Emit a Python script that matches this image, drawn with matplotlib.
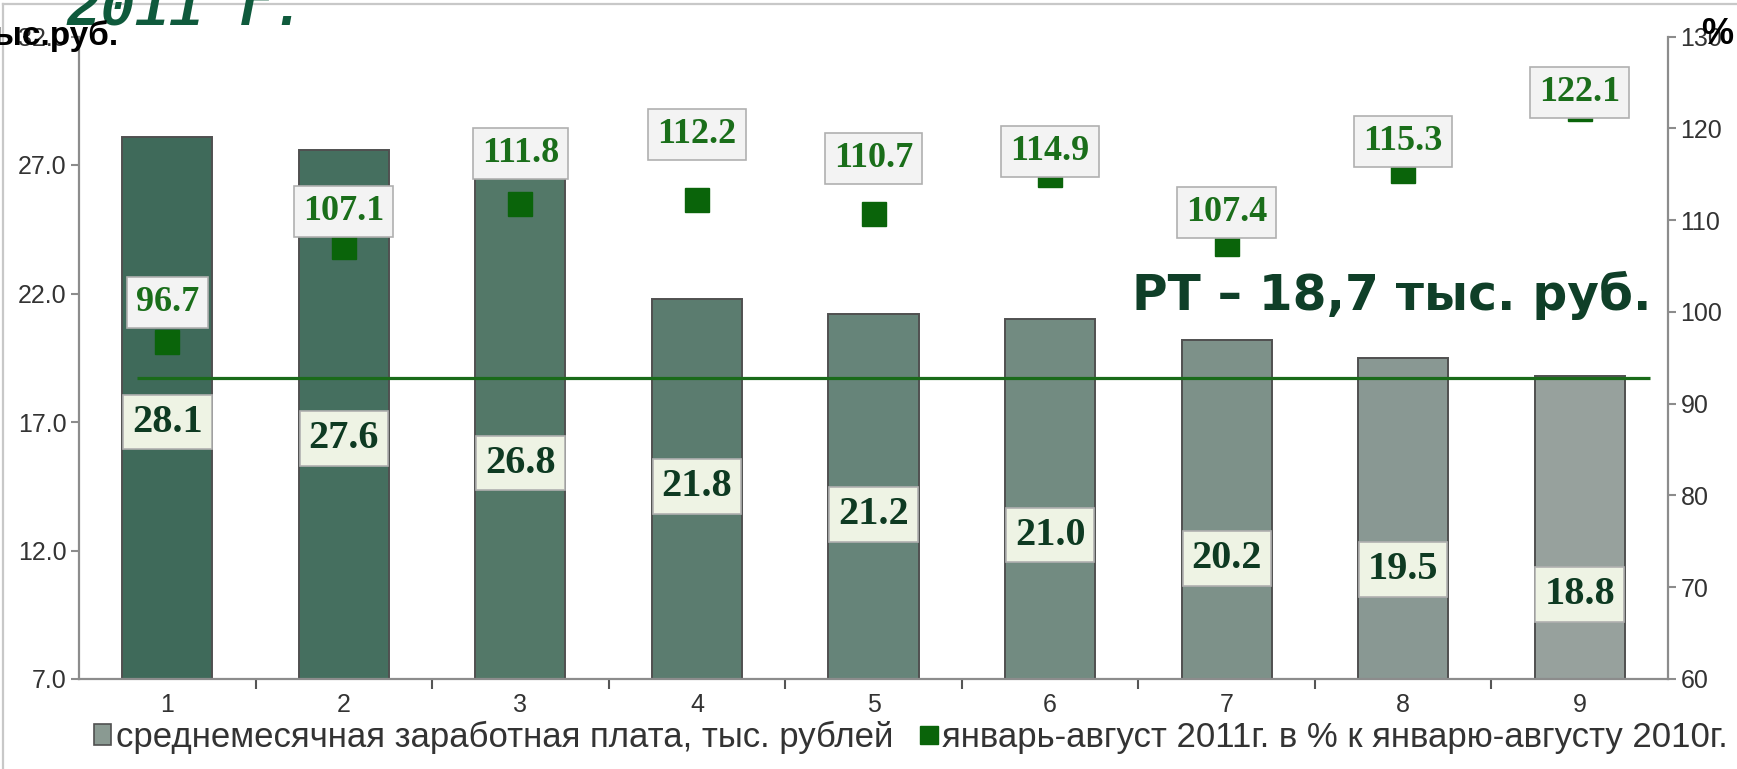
import matplotlib
matplotlib.use("Agg")
import matplotlib.pyplot as plt
from matplotlib.lines import Line2D
from matplotlib.patches import Patch

# --- data -------------------------------------------------------------------
categories = ["1", "2", "3", "4", "5", "6", "7", "8", "9"]
wage = [28.1, 27.6, 26.8, 21.8, 21.2, 21.0, 20.2, 19.5, 18.8]        # тыс. руб.
growth = [96.7, 107.1, 111.8, 112.2, 110.7, 114.9, 107.4, 115.3, 122.1]  # %
rt_avg = 18.7

# label placement (left axis units for wages, right axis units for growth)
wage_label_y = [17.0, 16.35, 15.4, 14.5, 13.4, 12.6, 11.7, 11.25, 10.3]
growth_label_y = [101.0, 110.9, 117.3, 119.3, 116.7, 117.5, 110.8, 118.6, 123.9]

bar_colors = ["#3f6a5a", "#456f5f", "#537868", "#5b7c6f", "#668479",
              "#728b81", "#7d9189", "#899893", "#97a19d"]

AXIS_GRAY = "#8c8c8c"
TICK_TXT = "#333333"
MARK_GREEN = "#0a640a"

W, H, DPI = 1737, 769, 100
fig = plt.figure(figsize=(W / DPI, H / DPI), dpi=DPI)
ax = fig.add_axes([79 / W, 1 - 679 / H, (1668 - 79) / W, (679 - 36.5) / H])
ax2 = ax.twinx()

x = list(range(len(categories)))

# bars
ax.bar(x, wage, width=0.51, color=bar_colors, edgecolor="#505050",
       linewidth=1.4, zorder=2)
ax.set_ylim(7, 32)
ax.set_xlim(-0.5, len(categories) - 0.5)
ax.set_yticks([7, 12, 17, 22, 27, 32])
ax.set_yticklabels([f"{v:.1f}" for v in [7, 12, 17, 22, 27, 32]])

# republic average line
ax.plot([-0.17, 8.40], [rt_avg, rt_avg], color="#1a6b1a", lw=2.3, zorder=3,
        solid_capstyle="butt")

for xi, v, ly in zip(x, wage, wage_label_y):
    ax.text(xi, ly, f"{v:.1f}", ha="center", va="center", fontsize=29,
            fontweight="bold", family="Liberation Serif", color="#0e3a22",
            zorder=5,
            bbox=dict(boxstyle="square,pad=0.22", fc="#eef3e4", ec="#b0b0b0",
                      lw=1.2))

# growth markers on the secondary axis
ax2.plot(x, growth, ls="none", marker="s", markersize=17, color=MARK_GREEN,
         zorder=3)
ax2.set_ylim(60, 130)
ax2.set_yticks(range(60, 131, 10))
for xi, v, ly in zip(x, growth, growth_label_y):
    ax2.text(xi, ly, f"{v:.1f}", ha="center", va="center", fontsize=26,
             fontweight="bold", family="Liberation Serif", color="#1a6e1a",
             zorder=6,
             bbox=dict(boxstyle="square,pad=0.25", fc="#f3f3f3", ec="#b0b0b0",
                       lw=1.2))

# axes styling
for a in (ax, ax2):
    a.spines["top"].set_visible(False)
    for s in ("left", "right", "bottom"):
        a.spines[s].set_color(AXIS_GRAY)
        a.spines[s].set_linewidth(1.6)
ax.spines["right"].set_visible(False)
ax2.spines["left"].set_visible(False)
ax2.spines["bottom"].set_visible(False)

ax.set_xticks(x)
ax.set_xticklabels(categories)
ax.set_xticks([i + 0.5 for i in x[:-1]], minor=True)
ax.tick_params(axis="x", which="major", length=0, pad=10, labelsize=18,
               labelcolor=TICK_TXT)
ax.tick_params(axis="x", which="minor", length=7, width=1.5, color="#555555",
               direction="out")
ax.tick_params(axis="y", length=6, width=1.5, color=AXIS_GRAY, pad=3,
               labelsize=18, labelcolor=TICK_TXT)
ax2.tick_params(axis="y", length=6, width=1.5, color=AXIS_GRAY, pad=3,
                labelsize=18, labelcolor=TICK_TXT)
for lab in ax.get_xticklabels() + ax.get_yticklabels() + ax2.get_yticklabels():
    lab.set_family("Liberation Sans")

# headings and annotations
fig.text(1651 / W, 1 - 310 / H, "РТ – 18,7 тыс. руб.", ha="right",
         va="baseline", fontsize=35, fontweight="bold", color="#0f3f28")
fig.text(66 / W, 1 - 26 / H, "2011 г.", ha="left", va="baseline",
         fontsize=41, fontweight="bold", style="italic",
         family="Liberation Mono", color="#0f5a3c")
fig.text(118 / W, 1 - 45 / H, "тыс.руб.", ha="right", va="baseline",
         fontsize=24, fontweight="bold", family="Liberation Sans",
         color="black")
fig.text(1733 / W, 1 - 44 / H, "%", ha="right", va="baseline",
         fontsize=26, fontweight="bold", family="Liberation Sans",
         color="black")

# outer chart frame
fig.add_artist(Line2D([3 / W, 3 / W], [0, 1 - 4 / H], transform=fig.transFigure,
                      color="#c8c8c8", lw=1.6))
fig.add_artist(Line2D([3 / W, 1], [1 - 4 / H, 1 - 4 / H],
                      transform=fig.transFigure, color="#c8c8c8", lw=1.6))

# legend
handles = [Patch(fc="#8a9a92", ec="#505050", lw=1.2),
           Line2D([], [], ls="none", marker="s", markersize=13, color=MARK_GREEN)]
labels = ["среднемесячная заработная плата, тыс. рублей",
          "январь-август 2011г. в % к январю-августу 2010г."]
fig.legend(handles, labels, loc="center", bbox_to_anchor=(911 / W, 1 - 737 / H),
           ncol=2, frameon=False, handlelength=0.5, handleheight=0.55,
           handletextpad=0.12, columnspacing=0.8,
           prop={"family": "Liberation Sans", "size": 25}, labelcolor=TICK_TXT)

fig.savefig("out.png", dpi=DPI)
